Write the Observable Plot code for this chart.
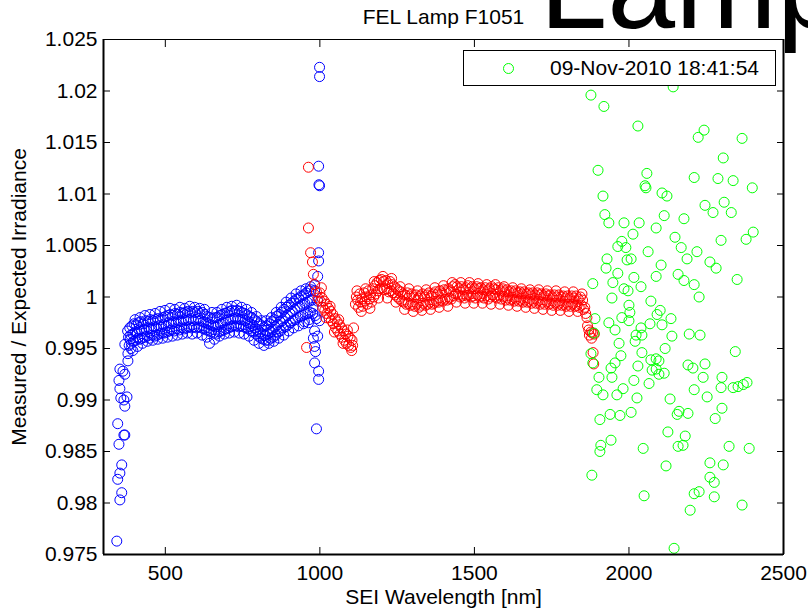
<!DOCTYPE html>
<html><head><meta charset="utf-8">
<script src="https://cdn.jsdelivr.net/npm/d3@7"></script>
<script src="https://cdn.jsdelivr.net/npm/@observablehq/plot@0.6"></script>
<style>
body{margin:0;background:#fff;}
#wrap{position:relative;width:808px;height:612px;overflow:hidden;font-family:"Liberation Sans",Arial,sans-serif;}
#legend{position:absolute;left:463px;top:50px;width:311px;height:34px;border:1px solid #000;background:#fff;font-size:21px;}
#legend .mk{position:absolute;left:39px;top:12px;width:9px;height:9px;border:1px solid #00ff00;border-radius:50%;}
#legend .lb{position:absolute;left:86px;top:0;line-height:34px;white-space:nowrap;color:#000;}
</style></head>
<body><div id="wrap"><div id="legend"><div class="mk"></div><div class="lb" id="legendLabel"></div></div></div>
<script>
const titleText = "FEL Lamp F1051";
const bigText = "Lamp";
const xLabel = "SEI Wavelength [nm]";
const yLabel = "Measured / Expected Irradiance";
const legendText = "09-Nov-2010 18:41:54";
const xTicks = [500, 1000, 1500, 2000, 2500];
const yTicks = [0.975, 0.98, 0.985, 0.99, 0.995, 1, 1.005, 1.01, 1.015, 1.02, 1.025];
const yTickLabels = ["0.975","0.98","0.985","0.99","0.995","1","1.005","1.01","1.015","1.02","1.025"];

// [wavelength nm, measured/expected]
const blueSeries = [
[343,0.9763],[353,0.9803],[359,0.9810],[346,0.9823],[353,0.9829],[359,0.9837],[350,0.9857],[366,0.9866],[369,0.9866],[346,0.9877],[369,0.9894],[366,0.9900],[376,0.9903],[356,0.9902],[353,0.9911],[350,0.9919],[369,0.9925],[363,0.9928],[353,0.9930],[379,0.9938],[379,0.9945],[389,0.9950],[369,0.9954],[386,0.9959],
[378,0.9967],[381,0.9961],[383,0.9953],[385,0.9970],[388,0.9963],[390,0.9955],[392,0.9972],[395,0.9964],[397,0.9957],[399,0.9974],[402,0.9966],[404,0.9958],
[406,0.9973],[409,0.9965],[411,0.9960],[413,0.9975],[416,0.9968],[418,0.9959],[420,0.9976],[423,0.9967],[425,0.9960],[428,0.9974],[431,0.9969],[433,0.9961],
[436,0.9977],[439,0.9968],[441,0.9962],[444,0.9976],[447,0.9970],[449,0.9960],[452,0.9978],[455,0.9969],[457,0.9963],[460,0.9977],[463,0.9971],[465,0.9962],
[468,0.9978],[471,0.9970],[473,0.9963],[476,0.9979],[479,0.9972],[481,0.9964],[484,0.9978],[487,0.9971],[489,0.9965],[492,0.9980],[495,0.9973],[497,0.9965],
[500,0.9981],[503,0.9972],[505,0.9966],[508,0.9982],[511,0.9975],[513,0.9967],[516,0.9983],[519,0.9974],[521,0.9968],[524,0.9982],[527,0.9976],[529,0.9967],
[532,0.9984],[535,0.9975],[537,0.9969],[540,0.9983],[543,0.9977],[545,0.9968],[548,0.9985],[551,0.9976],[553,0.9970],[556,0.9984],[559,0.9978],[561,0.9969],
[564,0.9985],[567,0.9977],[569,0.9970],[572,0.9986],[575,0.9978],[577,0.9971],[580,0.9985],[583,0.9979],[585,0.9970],[588,0.9986],[591,0.9977],[593,0.9971],
[596,0.9985],[599,0.9978],[601,0.9970],[604,0.9986],[607,0.9979],[609,0.9971],[612,0.9984],[615,0.9977],[617,0.9970],[620,0.9985],[623,0.9976],[625,0.9969],
[628,0.9983],[631,0.9975],[633,0.9968],[636,0.9981],[639,0.9974],[641,0.9967],[644,0.9980],[647,0.9973],[649,0.9966],[652,0.9979],[655,0.9972],[657,0.9965],
[660,0.9980],[663,0.9971],[665,0.9964],[668,0.9980],[671,0.9973],[673,0.9966],[676,0.9982],[679,0.9974],[681,0.9967],[684,0.9983],[687,0.9975],[689,0.9968],
[692,0.9984],[695,0.9977],[697,0.9969],[700,0.9985],[703,0.9978],[705,0.9970],[708,0.9986],[711,0.9978],[713,0.9971],[716,0.9987],[719,0.9979],[721,0.9972],
[724,0.9986],[727,0.9980],[729,0.9972],[732,0.9987],[735,0.9979],[737,0.9971],[740,0.9986],[743,0.9978],[745,0.9972],[748,0.9985],[751,0.9978],[753,0.9971],
[756,0.9984],[759,0.9977],[761,0.9970],[764,0.9983],[767,0.9975],[769,0.9969],[772,0.9981],[775,0.9974],[777,0.9967],[780,0.9980],[783,0.9972],[785,0.9966],
[788,0.9978],[791,0.9970],[793,0.9964],[796,0.9976],[799,0.9968],[801,0.9962],[804,0.9974],[807,0.9966],[809,0.9960],[812,0.9972],[815,0.9964],[817,0.9959],
[820,0.9971],[823,0.9963],[825,0.9958],[828,0.9972],[831,0.9964],[833,0.9958],[836,0.9974],[839,0.9966],[841,0.9960],[844,0.9976],[847,0.9968],[849,0.9961],
[852,0.9978],[855,0.9971],[857,0.9963],[860,0.9981],[863,0.9973],[865,0.9966],[868,0.9983],[871,0.9976],[873,0.9967],[876,0.9985],[879,0.9977],[881,0.9970],
[884,0.9988],[887,0.9980],[889,0.9971],[892,0.9990],[895,0.9982],[897,0.9973],[900,0.9992],[903,0.9984],[905,0.9975],[908,0.9994],[911,0.9986],[913,0.9977],
[916,0.9996],[919,0.9988],[921,0.9978],[924,0.9998],[927,0.9990],[929,0.9980],[932,0.9999],[935,0.9991],[937,0.9981],[940,1.0001],[943,0.9993],[945,0.9982],
[948,1.0002],[951,0.9994],[953,0.9983],[956,1.0004],[959,0.9995],[961,0.9984],[964,1.0006],[967,0.9996],[969,0.9985],[972,1.0007],[975,0.9997],[977,0.9984],
[395,0.9948],[402,0.9978],[410,0.9952],[418,0.9980],[426,0.9955],[434,0.9982],[442,0.9957],[450,0.9983],[459,0.9958],[467,0.9984],[475,0.9959],[483,0.9986],
[491,0.9960],[499,0.9987],[507,0.9961],[515,0.9989],[523,0.9962],[531,0.9988],[539,0.9963],[547,0.9990],[555,0.9964],[563,0.9989],[571,0.9965],[579,0.9991],
[587,0.9964],[595,0.9990],[603,0.9965],[611,0.9989],[619,0.9963],[627,0.9988],[635,0.9961],[643,0.9955],[651,0.9985],[659,0.9959],[667,0.9985],[675,0.9962],
[683,0.9988],[691,0.9964],[699,0.9990],[707,0.9965],[715,0.9991],[723,0.9966],[731,0.9992],[739,0.9965],[747,0.9990],[755,0.9964],[763,0.9988],[771,0.9962],
[779,0.9985],[787,0.9958],[795,0.9981],[803,0.9955],[811,0.9977],[819,0.9953],[827,0.9977],[835,0.9955],[843,0.9980],[851,0.9957],[859,0.9985],[867,0.9960],
[875,0.9990],[883,0.9963],[891,0.9995],[899,0.9967],[907,0.9999],[915,0.9970],[923,1.0003],[931,0.9972],[939,1.0006],[947,0.9974],[955,1.0008],[963,0.9975],
[950,0.9976],[965,0.9978],[978,0.9990],[985,0.9982],[970,1.0010],
[983,0.9967],[979,0.9960],[983,0.9952],[993,0.9962],[986,0.9947],[983,0.9936],[996,0.9928],[996,0.9920],[989,0.9872],[996,1.0043],[996,1.0035],[993,1.0020],
[983,1.0012],[999,1.0223],[999,1.0214],[996,1.0127],[999,1.0108],[997,1.0109],[983,1.0006],[993,0.9996],[989,0.9979],[999,0.9977]
];

const redSeries = [
[963,1.0126],[963,1.0067],[970,1.0043],[976,1.0034],[979,1.0022],[957,0.9951],[983,1.0012],[989,1.0005],[994,0.9999],
[1000,1.0004],[1002,0.9996],[1007,0.9999],[1009,0.9990],[1014,0.9996],[1016,0.9987],[1021,0.9993],[1023,0.9984],[1028,0.9989],[1030,0.9980],
[1035,0.9986],[1037,0.9977],[1042,0.9983],[1044,0.9974],[1049,0.9979],[1051,0.9970],[1056,0.9976],[1058,0.9967],[1063,0.9973],[1065,0.9964],
[1070,0.9970],[1072,0.9961],[1077,0.9967],[1079,0.9958],[1084,0.9964],[1086,0.9955],[1091,0.9962],[1093,0.9953],[1098,0.9960],[1100,0.9951],
[1104,0.9958],[1106,0.9953],[1109,0.9970],
[1005,1.0009],[1019,0.9980],[1033,0.9991],[1047,0.9966],[1061,0.9978],[1075,0.9955],[1089,0.9968],[1103,0.9948],
[1115,0.9993],[1118,1.0000],[1122,0.9997],[1125,0.9990],[1129,1.0003],[1132,0.9995],[1136,0.9998],[1139,0.9991],[1143,1.0004],[1146,0.9996],
[1150,1.0000],[1153,0.9993],[1157,1.0006],[1160,0.9998],[1164,1.0002],[1167,0.9995],[1171,1.0008],[1174,1.0000],[1178,1.0011],[1181,1.0003],
[1185,1.0014],[1188,1.0006],[1192,1.0016],[1195,1.0008],[1199,1.0017],[1202,1.0009],[1206,1.0015],[1209,1.0007],[1213,1.0016],[1216,1.0008],
[1220,1.0013],[1223,1.0005],[1227,1.0015],[1230,1.0006],[1234,1.0012],[1237,1.0004],[1241,1.0010],[1244,1.0002],[1248,1.0008],[1251,1.0000],
[1255,1.0006],[1258,0.9998],[1262,1.0005],[1265,0.9996],[1269,1.0003],[1272,0.9995],[1276,1.0002],[1279,0.9993],[1283,1.0004],[1286,0.9994],
[1290,1.0001],[1293,0.9992],[1297,1.0003],[1300,0.9993],[1304,1.0000],[1307,0.9991],[1311,1.0002],[1314,0.9993],[1318,0.9999],[1321,0.9990],
[1325,1.0001],[1328,0.9992],[1332,1.0003],[1335,0.9994],[1339,1.0000],[1342,0.9992],[1346,1.0002],[1349,0.9993],[1353,1.0004],[1356,0.9995],
[1360,1.0001],[1363,0.9993],[1367,1.0003],[1370,0.9994],[1374,1.0005],[1377,0.9996],[1381,1.0003],[1384,0.9995],[1388,1.0006],[1391,0.9997],
[1395,1.0004],[1398,0.9996],[1402,1.0007],[1405,0.9998],[1409,1.0005],[1412,0.9997],[1416,1.0008],[1419,0.9999],[1423,1.0006],[1426,0.9998],
[1430,1.0010],[1433,1.0001],[1437,1.0012],[1440,1.0003],[1444,1.0010],[1447,1.0002],[1451,1.0008],[1454,1.0000],[1458,1.0010],[1461,1.0001],
[1465,1.0007],[1468,0.9999],[1472,1.0009],[1475,1.0001],[1479,1.0011],[1482,1.0002],[1486,1.0008],[1489,1.0000],[1493,1.0010],[1496,1.0001],
[1500,1.0008],[1503,0.9999],[1507,1.0010],[1510,1.0002],[1514,1.0008],[1517,1.0000],[1521,1.0009],[1524,1.0001],[1528,1.0007],[1531,0.9999],
[1535,1.0009],[1538,1.0001],[1542,1.0006],[1545,0.9998],[1549,1.0008],[1552,1.0000],[1556,1.0010],[1559,1.0002],[1563,1.0008],[1566,1.0000],
[1570,1.0007],[1573,0.9999],[1577,1.0009],[1580,1.0001],[1584,1.0006],[1587,0.9998],[1591,1.0008],[1594,1.0000],[1598,1.0005],[1601,0.9997],
[1605,1.0007],[1608,0.9999],[1612,1.0005],[1615,0.9997],[1619,1.0006],[1622,0.9998],[1626,1.0004],[1629,0.9996],[1633,1.0006],[1636,0.9998],
[1640,1.0004],[1643,0.9996],[1647,1.0005],[1650,0.9997],[1654,1.0003],[1657,0.9995],[1661,1.0005],[1664,0.9997],[1668,1.0003],[1671,0.9995],
[1675,1.0004],[1678,0.9996],[1682,1.0002],[1685,0.9994],[1689,1.0004],[1692,0.9996],[1696,1.0002],[1699,0.9994],[1703,1.0004],[1706,0.9996],
[1710,1.0002],[1713,0.9993],[1717,1.0003],[1720,0.9995],[1724,1.0001],[1727,0.9993],[1731,1.0003],[1734,0.9995],[1738,1.0001],[1741,0.9993],
[1745,1.0002],[1748,0.9994],[1752,1.0000],[1755,0.9992],[1759,1.0002],[1762,0.9994],[1766,1.0000],[1769,0.9992],[1773,1.0002],[1776,0.9994],
[1780,1.0000],[1783,0.9992],[1787,1.0001],[1790,0.9993],[1794,0.9999],[1797,0.9991],[1801,1.0001],[1804,0.9993],[1808,0.9999],[1811,0.9991],
[1815,1.0001],[1818,0.9993],[1822,0.9999],[1825,0.9991],[1829,1.0001],[1832,0.9992],[1836,0.9998],[1839,0.9990],[1843,1.0000],[1846,0.9992],
[1850,0.9997],[1853,0.9988],[1857,0.9990],[1860,0.9984],[1864,0.9980],[1866,0.9972],[1870,0.9968],[1872,0.9963],[1877,0.9966],[1879,0.9960],
[1882,0.9965],[1884,0.9946],[1886,0.9935],[1888,0.9964],
[1120,1.0006],[1134,0.9986],[1148,1.0008],[1162,0.9989],[1176,1.0015],[1190,0.9999],[1204,1.0020],[1218,0.9999],[1232,1.0018],[1246,0.9995],
[1260,1.0010],[1274,0.9988],[1288,1.0008],[1302,0.9986],[1316,1.0006],[1330,0.9987],[1344,1.0007],[1358,0.9988],[1372,1.0009],[1386,0.9990],
[1400,1.0011],[1414,0.9991],[1428,1.0014],[1442,0.9995],[1456,1.0014],[1470,0.9994],[1484,1.0014],[1498,0.9994],[1512,1.0013],[1526,0.9994],
[1540,1.0012],[1554,0.9993],[1568,1.0012],[1582,0.9993],[1596,1.0010],[1610,0.9992],[1624,1.0009],[1638,0.9991],[1652,1.0008],[1666,0.9990],
[1680,1.0007],[1694,0.9989],[1708,1.0007],[1722,0.9988],[1736,1.0006],[1750,0.9987],[1764,1.0006],[1778,0.9987],[1792,1.0005],[1806,0.9986],
[1820,1.0005],[1834,0.9986],[1848,1.0003]
];

const greenSeries = [
[1877,1.0196],[1919,1.0185],[2029,1.0166],[2143,1.0204],[2224,1.0155],[2243,1.0162],[2366,1.0154],[2305,1.0135],[1900,1.0123],[2058,1.0120],
[2211,1.0116],[2288,1.0115],[2337,1.0113],[2399,1.0106],[2052,1.0108],[2055,1.0106],[1916,1.0098],[2107,1.0101],[2123,1.0098],[2246,1.0089],
[2272,1.0082],[2308,1.0092],[2331,1.0082],[1922,1.0080],[1935,1.0072],[1984,1.0072],[2033,1.0072],[2114,1.0079],[2178,1.0076],[2088,1.0067],
[2013,1.0061],[2402,1.0063],[2379,1.0056],[2298,1.0055],[2149,1.0058],[1977,1.0054],[1964,1.0049],[1990,1.0048],[2062,1.0044],[2169,1.0048],
[2220,1.0044],[1929,1.0037],[1926,1.0028],[1994,1.0036],[2007,1.0037],[2104,1.0031],[2188,1.0037],[2262,1.0034],[2282,1.0028],[1964,1.0023],
[2016,1.0019],[2088,1.0020],[2159,1.0022],[2178,1.0016],[2211,1.0012],[2350,1.0017],[1883,1.0013],[1948,1.0014],[2039,1.0010],[1984,1.0008],
[1997,1.0006],[1945,0.9999],[2071,0.9996],[2227,1.0000],[2000,0.9992],[2003,0.9985],[2101,0.9987],[2091,0.9983],[2136,0.9979],[1977,0.9980],
[1890,0.9979],[2000,0.9977],[1935,0.9975],[1955,0.9968],[2068,0.9974],[2039,0.9970],[2107,0.9973],[1887,0.9965],[2023,0.9963],[2020,0.9957],
[2042,0.9963],[2195,0.9964],[2230,0.9963],[2139,0.9962],[1968,0.9955],[2117,0.9950],[2042,0.9946],[2344,0.9947],[1877,0.9945],[1974,0.9943],
[1883,0.9936],[2071,0.9939],[2088,0.9940],[2097,0.9938],[1955,0.9936],[1942,0.9931],[2029,0.9933],[2191,0.9934],[2207,0.9931],[2246,0.9935],
[2075,0.9929],[2088,0.9930],[2114,0.9926],[2097,0.9925],[2065,0.9916],[2016,0.9919],[1903,0.9922],[1945,0.9922],[2240,0.9922],[2301,0.9922],
[1896,0.9910],[1916,0.9905],[1981,0.9911],[1961,0.9905],[2211,0.9910],[2298,0.9912],[2337,0.9912],[2353,0.9913],[2370,0.9915],[2382,0.9917],
[2026,0.9902],[2133,0.9901],[2253,0.9903],[1906,0.9881],[1939,0.9886],[1971,0.9885],[2007,0.9888],[2162,0.9889],[2156,0.9886],[2191,0.9887],
[2301,0.9892],[2279,0.9882],[2126,0.9869],[2182,0.9865],[2175,0.9856],[2159,0.9855],[1942,0.9861],[1909,0.9856],[1906,0.9850],[2046,0.9853],
[2324,0.9855],[2389,0.9853],[1880,0.9827],[2120,0.9836],[2262,0.9839],[2305,0.9837],[2262,0.9825],[2276,0.9820],[2049,0.9807],[2211,0.9809],
[2227,0.9811],[2276,0.9806],[2366,0.9798],[2198,0.9793],[2146,0.9756]
];

const yLabelOf = new Map(yTicks.map((t, i) => [t, yTickLabels[i]]));
const font = "Liberation Sans, Arial, Helvetica, sans-serif";
const dotOpts = (color) => ({x: d => d[0], y: d => d[1], r: 5, stroke: color, strokeWidth: 1, fill: "none"});

const chart = Plot.plot({
  width: 808, height: 612,
  marginTop: 39, marginBottom: 58, marginLeft: 103, marginRight: 25,
  style: {fontFamily: font, fontSize: "21px", background: "white", color: "black", overflow: "hidden"},
  x: {domain: [300, 2500]},
  y: {domain: [0.975, 1.025]},
  marks: [
    Plot.dot(blueSeries, dotOpts("#0000ff")),
    Plot.dot(redSeries, dotOpts("#ff0000")),
    Plot.dot(greenSeries, dotOpts("#00ff00")),
    Plot.frame({stroke: "black", strokeWidth: 1}),
    Plot.ruleX([300], {stroke: "black", strokeWidth: 2}),
    Plot.ruleX([2500], {stroke: "black", strokeWidth: 2}),
    Plot.ruleY([0.975], {stroke: "black", strokeWidth: 2}),
    Plot.axisX(xTicks, {anchor: "bottom", tickSize: -7, tickPadding: 18, label: null, tickFormat: d => String(d), fontSize: 21}),
    Plot.axisX(xTicks, {anchor: "top", tickSize: -7, fill: "none", label: null}),
    Plot.axisY(yTicks, {anchor: "left", tickSize: -7, tickPadding: 13, label: null, tickFormat: d => yLabelOf.get(d), fontSize: 21}),
    Plot.axisY(yTicks, {anchor: "right", tickSize: -7, fill: "none", label: null}),
    Plot.text([titleText], {text: d => d, frameAnchor: "top", dy: -22, lineAnchor: "middle", fontSize: 21}),
    Plot.text([bigText], {text: d => d, frameAnchor: "top-left", dx: 436, dy: -51, textAnchor: "start", lineAnchor: "middle", fontSize: 122}),
    Plot.text([xLabel], {text: d => d, frameAnchor: "bottom", dy: 43, lineAnchor: "middle", fontSize: 21}),
    Plot.text([yLabel], {text: d => d, frameAnchor: "left", dx: -84, rotate: -90, textAnchor: "middle", lineAnchor: "middle", fontSize: 21})
  ]
});
const wrap = document.getElementById("wrap");
wrap.insertBefore(chart, wrap.firstChild);
document.getElementById("legendLabel").textContent = legendText;
</script>
</body></html>
